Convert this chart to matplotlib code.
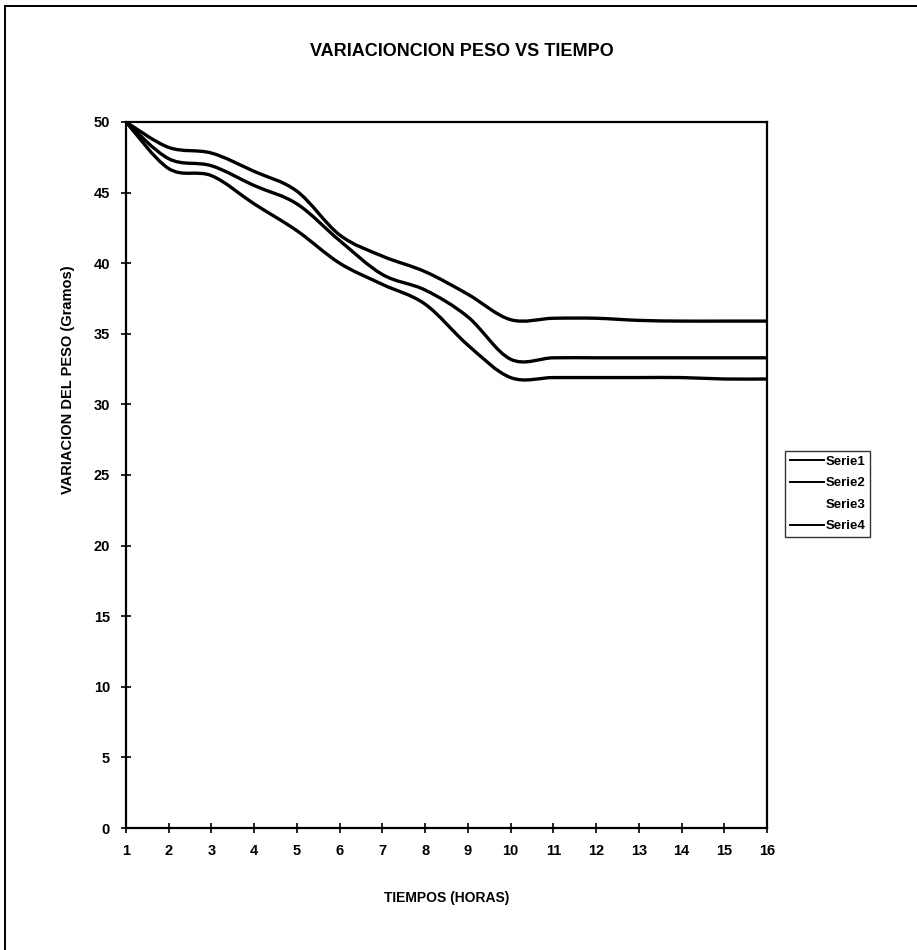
import matplotlib
matplotlib.use("Agg")
import matplotlib.pyplot as plt
import matplotlib.path as mpath
import matplotlib.patches as mpatches
from matplotlib.lines import Line2D

plt.rcParams['font.family'] = ['Liberation Sans', 'DejaVu Sans']

horas = [1, 2, 3, 4, 5, 6, 7, 8, 9, 10, 11, 12, 13, 14, 15, 16]
serie1 = [50, 48.2, 47.8, 46.5, 45.1, 42.0, 40.5, 39.4, 37.8, 36.0, 36.1, 36.1, 35.95, 35.9, 35.9, 35.9]
serie2 = [50, 47.4, 46.9, 45.5, 44.2, 41.6, 39.2, 38.1, 36.2, 33.2, 33.3, 33.3, 33.3, 33.3, 33.3, 33.3]
serie4 = [50, 46.7, 46.2, 44.2, 42.3, 40.0, 38.5, 37.1, 34.2, 31.9, 31.9, 31.9, 31.9, 31.9, 31.8, 31.8]
nombres = ['Serie1', 'Serie2', 'Serie3', 'Serie4']


def smooth_path(xs, ys, k=1.0 / 6):
	# Bezier segments through every point (same idea as the spreadsheet "smoothed line")
	pts = list(zip(xs, ys))
	verts = [pts[0]]
	codes = [mpath.Path.MOVETO]
	n = len(pts)
	for i in range(n - 1):
		p0 = pts[i - 1] if i > 0 else pts[i]
		p1 = pts[i]
		p2 = pts[i + 1]
		p3 = pts[i + 2] if i + 2 < n else pts[i + 1]
		c1 = (p1[0] + (p2[0] - p0[0]) * k, p1[1] + (p2[1] - p0[1]) * k)
		c2 = (p2[0] - (p3[0] - p1[0]) * k, p2[1] - (p3[1] - p1[1]) * k)
		verts += [c1, c2, p2]
		codes += [mpath.Path.CURVE4] * 3
	return mpath.Path(verts, codes)


fig = plt.figure(figsize=(9.17, 9.5), dpi=100)
ax = fig.add_axes([126 / 917, 1 - 828 / 950, (767 - 126) / 917, (828 - 122) / 950])

for ys in (serie1, serie2, serie4):
	patch = mpatches.PathPatch(smooth_path(horas, ys), facecolor='none',
		edgecolor='black', lw=2.4, capstyle='round', joinstyle='round')
	ax.add_patch(patch)

ax.set_xlim(1, 16)
ax.set_ylim(0, 50)
ax.set_xticks(horas)
ax.set_yticks(range(0, 51, 5))
ax.tick_params(direction='inout', length=7, width=1.2, labelsize=10.5, pad=8)
for lab in ax.get_xticklabels() + ax.get_yticklabels():
	lab.set_fontweight('bold')
for s in ax.spines.values():
	s.set_linewidth(1.6)

fig.text(462 / 917, 1 - 52 / 950, 'VARIACIONCION PESO VS TIEMPO', fontsize=13,
	fontweight='bold', ha='center', va='center')
ax.set_xlabel('TIEMPOS (HORAS)', fontsize=10, fontweight='bold', labelpad=24)
ax.set_ylabel('VARIACION DEL PESO (Gramos)', fontsize=10.5, fontweight='bold')
ax.yaxis.set_label_coords(-0.08, 0.635)

handles = [Line2D([], [], color='black', lw=1.4),
	Line2D([], [], color='black', lw=1.4),
	Line2D([], [], color='white', lw=1.4),
	Line2D([], [], color='black', lw=1.4)]
leg = fig.legend(handles, nombres, loc='center left', bbox_to_anchor=(785 / 917, 1 - 494 / 950),
	prop={'weight': 'bold', 'size': 9.5}, frameon=True, fancybox=False,
	handlelength=2.6, handletextpad=0.1, borderpad=0.35, labelspacing=0.7, borderaxespad=0)
leg.get_frame().set_edgecolor('black')
leg.get_frame().set_linewidth(1.0)

# outer chart border (left and top edges fall inside the image)
fig.add_artist(mpatches.Rectangle((5 / 917, -0.05), 1.2, 1 - 6 / 950 + 0.05,
	transform=fig.transFigure, fill=False, edgecolor='black', lw=1.4))

fig.savefig('out.png', dpi=100)
